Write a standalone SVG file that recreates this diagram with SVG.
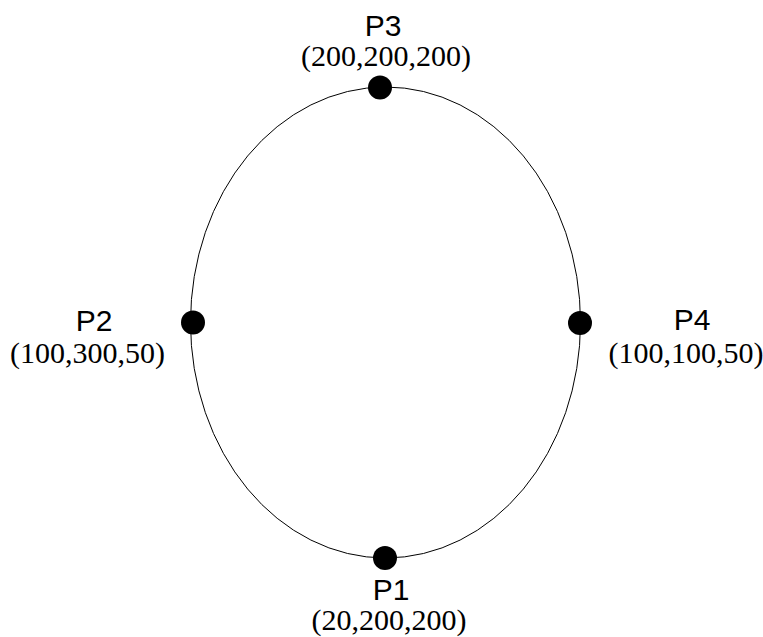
<svg xmlns="http://www.w3.org/2000/svg" width="763" height="637" viewBox="0 0 763 637">
  <style>
    .name { font-family: "Liberation Sans", Arial, sans-serif; font-size: 30px; fill: #000; text-anchor: middle; }
    .coord { font-family: "Liberation Serif", "Times New Roman", serif; font-size: 30px; fill: #000; text-anchor: middle; }
    .dot { fill: #000; }
  </style>
  <rect width="763" height="637" fill="#fff"/>
  <g id="connectors">
    <ellipse cx="385.5" cy="322.5" rx="195" ry="235.5" fill="none" stroke="#000" stroke-width="1"/>
  </g>
  <g id="P3">
    <circle class="dot" cx="380" cy="87.5" r="12"/>
    <text class="name" x="383" y="36">P3</text>
    <text class="coord" x="386" y="66">(200,200,200)</text>
  </g>
  <g id="P2">
    <circle class="dot" cx="193" cy="322.5" r="12"/>
    <text class="name" x="94" y="331">P2</text>
    <text class="coord" x="87.5" y="363">(100,300,50)</text>
  </g>
  <g id="P4">
    <circle class="dot" cx="580" cy="323" r="12"/>
    <text class="name" x="692" y="330">P4</text>
    <text class="coord" x="686" y="363">(100,100,50)</text>
  </g>
  <g id="P1">
    <circle class="dot" cx="385" cy="558" r="12"/>
    <text class="name" x="391" y="600">P1</text>
    <text class="coord" x="389" y="630">(20,200,200)</text>
  </g>
</svg>
